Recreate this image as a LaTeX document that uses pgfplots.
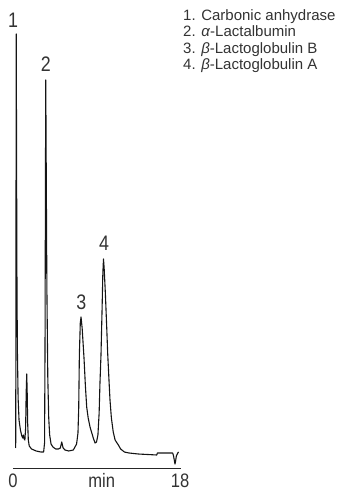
\documentclass[border=0pt]{standalone}
\usepackage{fontspec}
\setmainfont{Liberation Sans}
\newfontfamily\condfont[FakeStretch=0.85]{Liberation Sans}
\usepackage{pgfplots}
\pgfplotsset{compat=1.18}
\definecolor{ink}{HTML}{141414}
\definecolor{txt}{HTML}{333333}
\begin{document}
\begin{tikzpicture}
\useasboundingbox (0,0) rectangle (341pt,491pt);
\begin{axis}[
  at={(13pt,23pt)}, anchor=south west,
  scale only axis, width=168pt, height=468pt,
  xmin=0, xmax=18.1, ymin=0, ymax=468,
  axis x line=bottom, axis y line=none,
  x axis line style={-, black!85, line width=1pt},
  xtick=\empty, ytick=\empty,
  clip=false,
]
\addplot[ink, line width=1.1pt, line join=round] coordinates {
(0.29,20) (0.31,120) (0.33,300) (0.35,434) (0.38,330) (0.42,200) (0.47,120)
(0.55,70) (0.65,48) (0.8,38) (0.95,32) (1.05,30) (1.12,33) (1.2,29) (1.28,28)
(1.36,40) (1.42,75) (1.48,94) (1.53,75) (1.58,45) (1.65,28) (1.75,22)
(2.0,19) (2.5,17) (3.0,16) (3.3,16) (3.4,25) (3.45,120) (3.5,300) (3.53,388)
(3.58,300) (3.65,180) (3.75,90) (3.85,50) (3.95,33) (4.1,24) (4.3,21)
(4.6,19) (4.9,19) (5.1,20) (5.25,26) (5.4,20) (5.6,18) (6.0,17)
(6.5,18) (6.85,24) (7.0,35) (7.08,60) (7.15,113) (7.25,145) (7.33,151)
(7.45,140) (7.55,125) (7.65,110) (7.8,82) (7.94,61) (8.1,50) (8.3,41)
(8.65,30) (8.84,25) (9.0,26) (9.15,33) (9.28,55) (9.37,85) (9.48,113)
(9.6,160) (9.68,195) (9.75,209) (9.82,200) (9.95,175) (10.1,140) (10.2,115)
(10.33,90) (10.45,68) (10.6,50) (10.8,36) (11.0,28) (11.35,23) (11.6,19)
(12.0,16) (12.5,15) (13.5,14) (14.5,13.5) (15.5,13) (15.55,15) (16.5,15)
(17.2,15) (17.3,12) (17.45,4) (17.5,6) (17.6,12) (17.75,15) (17.85,16)
};
\begin{scope}[every node/.style={font=\condfont\fontsize{21}{21}\selectfont, text=txt, inner sep=0pt}]
\node[anchor=base] at (axis cs:0,440) {1};
\node[anchor=base] at (axis cs:3.53,396) {2};
\node[anchor=base] at (axis cs:7.36,158) {3};
\node[anchor=base] at (axis cs:9.81,217.2) {4};
\end{scope}
\begin{scope}[every node/.style={font=\condfont\fontsize{19.5}{19.5}\selectfont, text=txt, inner sep=0pt}]
\node[anchor=base] at (axis cs:0,-19) {0};
\node[anchor=base] at (axis cs:18,-19) {18};
\node[anchor=base] at (axis cs:9.56,-19) {min};
\end{scope}
\end{axis}
\begin{scope}[every node/.style={anchor=base west, inner sep=0pt, text=txt, font=\fontsize{15}{16.5}\selectfont}]
\node at (183pt,470.5pt) {1. Carbonic anhydrase};
\node at (183pt,454pt) {2. \textit{α}-Lactalbumin};
\node at (183pt,437.5pt) {3. \textit{β}-Lactoglobulin B};
\node at (183pt,421pt) {4. \textit{β}-Lactoglobulin A};
\end{scope}
\end{tikzpicture}
\end{document}
